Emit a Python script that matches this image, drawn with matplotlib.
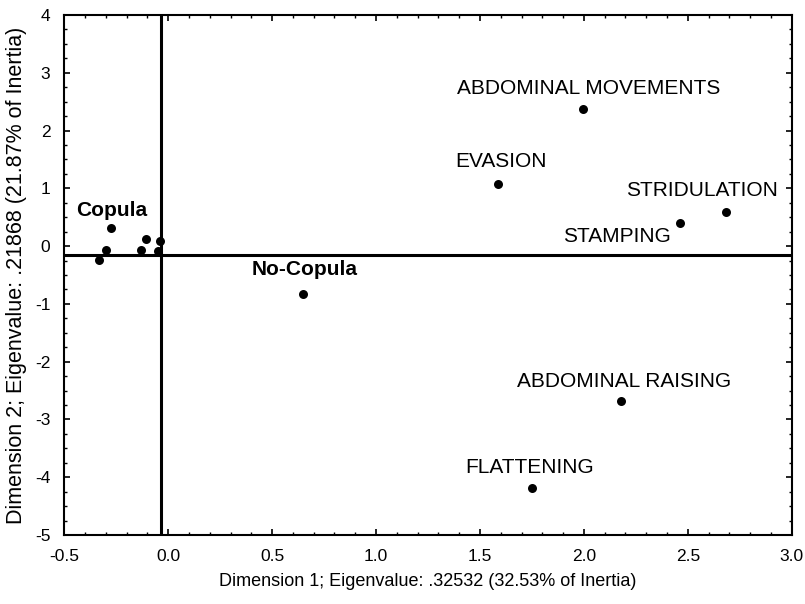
import matplotlib
matplotlib.use("Agg")
import matplotlib.pyplot as plt
from matplotlib.ticker import MultipleLocator, FormatStrFormatter

plt.rcParams['font.family'] = ['Liberation Sans', 'DejaVu Sans']

# Variable categories
var_labels = ["ABDOMINAL MOVEMENTS", "EVASION", "STRIDULATION", "STAMPING",
              "ABDOMINAL RAISING", "FLATTENING"]
var_x = [1.998, 1.587, 2.683, 2.463, 2.178, 1.749]
var_y = [2.373, 1.075, 0.596, 0.395, -2.675, -4.181]

# Group points
group_labels = ["Copula", "No-Copula"]
group_x = [-0.275, 0.649]
group_y = [0.319, -0.829]

# Unlabelled cluster points near origin
cluster_x = [-0.299, -0.333, -0.105, -0.132, -0.038, -0.050]
cluster_y = [-0.067, -0.240, 0.118, -0.067, 0.089, -0.084]

# Reference lines
ref_x = -0.035
ref_y = -0.154

W, H = 805, 604
fig = plt.figure(figsize=(W / 100, H / 100), dpi=100)
L, R, T, B = 64.3, 791.7, 15, 535
ax = fig.add_axes([L / W, 1 - B / H, (R - L) / W, (B - T) / H])

ax.axvline(ref_x, color='black', lw=2.2, zorder=1)
ax.axhline(ref_y, color='black', lw=2.2, zorder=1)

ax.scatter(var_x, var_y, s=42, color='black', zorder=3, linewidths=0)
ax.scatter(group_x, group_y, s=42, color='black', zorder=3, linewidths=0)
ax.scatter(cluster_x, cluster_y, s=42, color='black', zorder=3, linewidths=0)

# label offsets in data units (dx, dy) from each point
var_off = [(-0.609, 0.358), (-0.207, 0.381), (-0.480, 0.363), (-0.562, -0.232),
           (-0.501, 0.329), (-0.321, 0.353)]
for lab, x, y, (dx, dy) in zip(var_labels, var_x, var_y, var_off):
    ax.text(x + dx, y + dy, lab, fontsize=15, ha='left', va='center')

grp_off = [(-0.169, 0.306), (-0.246, 0.416)]
for lab, x, y, (dx, dy) in zip(group_labels, group_x, group_y, grp_off):
    ax.text(x + dx, y + dy, lab, fontsize=15, fontweight='bold', ha='left', va='center')

ax.set_xlim(-0.5, 3.0)
ax.set_ylim(-5, 4)
ax.xaxis.set_major_locator(MultipleLocator(0.5))
ax.xaxis.set_minor_locator(MultipleLocator(0.1))
ax.yaxis.set_major_locator(MultipleLocator(1))
ax.yaxis.set_minor_locator(MultipleLocator(0.25))
ax.xaxis.set_major_formatter(FormatStrFormatter('%.1f'))
ax.yaxis.set_major_formatter(FormatStrFormatter('%d'))
ax.tick_params(which='both', direction='in', top=True, right=True, labelsize=12.5)
ax.tick_params(axis='x', which='major', pad=10)
ax.tick_params(axis='y', which='major', pad=10)
ax.tick_params(which='major', length=4, width=1.2)
ax.tick_params(which='minor', length=2.5, width=1)
for s in ax.spines.values():
    s.set_linewidth(1.5)

xl = ax.set_xlabel("Dimension 1; Eigenvalue: .32532 (32.53% of Inertia)", fontsize=13)
yl = ax.set_ylabel("Dimension 2; Eigenvalue: .21868 (21.87% of Inertia)", fontsize=15.5)
xl.set_va('center')
yl.set_va('center')
ax.xaxis.set_label_coords(0.5, (B - 581) / (B - T))
ax.yaxis.set_label_coords((17 - L) / (R - L), (B - 275) / (B - T))

fig.savefig("out.png", dpi=100)
